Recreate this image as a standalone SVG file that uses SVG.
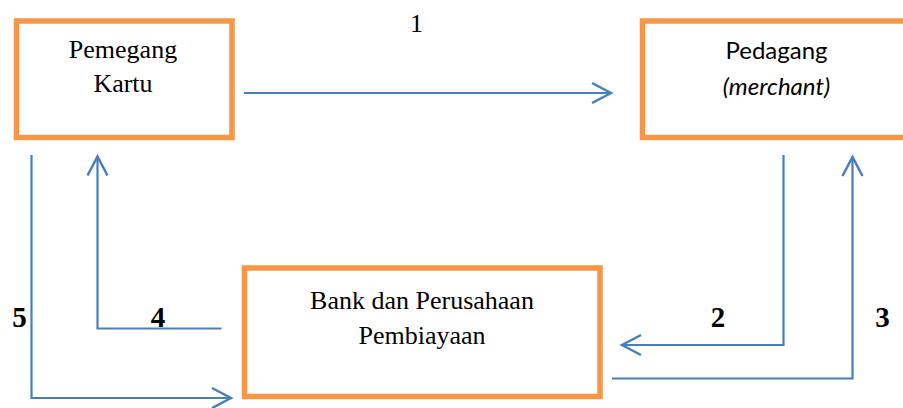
<svg xmlns="http://www.w3.org/2000/svg" width="903" height="408" viewBox="0 0 903 408">
<style>
.box{fill:#fff;stroke:#F79646;stroke-width:5.5}
.conn{fill:none;stroke:#4A7EBB;stroke-width:2.2}
.tnr{font-family:"Liberation Serif","Times New Roman",serif;font-size:26px;fill:#000;text-anchor:middle}
.cal{font-family:Lato,"Open Sans",sans-serif;font-size:24px;fill:#000;text-anchor:middle}
.num{font-family:"Liberation Serif","Times New Roman",serif;font-size:29px;font-weight:bold;fill:#000;text-anchor:middle}
</style>
<defs>
<marker id="arr" markerUnits="userSpaceOnUse" markerWidth="24" markerHeight="24" viewBox="-21 -12 24 24" refX="0" refY="0" orient="auto">
<path d="M-19,-10 L0,0 L-19,10" fill="none" stroke="#4A7EBB" stroke-width="2.5"/>
</marker>
</defs>
<rect width="903" height="408" fill="#fff"/>
<g id="pemegang">
<rect class="box" x="16.5" y="21" width="215.5" height="116.5"/>
<text class="tnr" x="123" y="58">Pemegang</text>
<text class="tnr" x="123" y="92">Kartu</text>
</g>
<g id="pedagang">
<rect class="box" x="642.5" y="21" width="268" height="116.5"/>
<text class="cal" x="776.5" y="59">Pedagang</text>
<text class="cal" x="776.5" y="95" font-style="italic" font-size="26">(merchant)</text>
</g>
<g id="bank">
<rect class="box" x="244.5" y="268" width="355.5" height="128.5"/>
<text class="tnr" x="422" y="309">Bank dan Perusahaan</text>
<text class="tnr" x="422" y="344">Pembiayaan</text>
</g>
<g id="connectors">
<path class="conn" d="M244,93 H611" marker-end="url(#arr)"/>
<path class="conn" d="M783.5,155 V345 H622" marker-end="url(#arr)"/>
<path class="conn" d="M612,378.5 H852.5 V157" marker-end="url(#arr)"/>
<path class="conn" d="M221.5,328.5 H97.5 V156.5" marker-end="url(#arr)"/>
<path class="conn" d="M31.5,155 V398 H231" marker-end="url(#arr)"/>
</g>
<g id="labels">
<text class="tnr" x="416.5" y="32" font-size="29">1</text>
<text class="num" x="718" y="327">2</text>
<text class="num" x="882.5" y="327">3</text>
<text class="num" x="158" y="327">4</text>
<text class="num" x="19.5" y="327">5</text>
</g>
</svg>
